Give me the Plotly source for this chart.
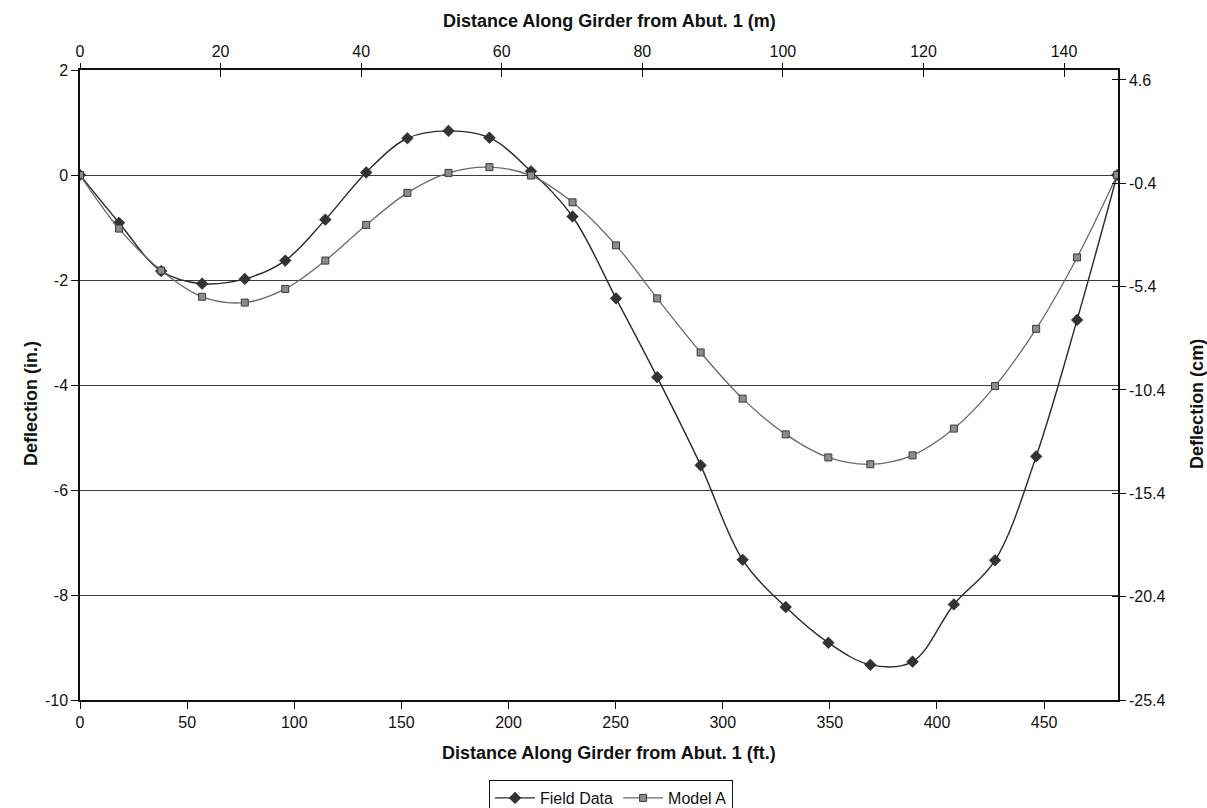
import plotly.graph_objects as go

# Data
dist_ft = [0, 18.2, 37.9, 57.0, 76.9, 95.8, 114.5, 133.6, 152.8, 172.0, 191.1, 210.5, 229.9,
           250.2, 269.4, 289.7, 309.3, 329.4, 349.3, 368.9, 388.6, 407.9, 427.1, 446.3, 465.4, 484.1]
field_data = [0, -0.91, -1.83, -2.07, -1.98, -1.63, -0.85, 0.05, 0.70, 0.84, 0.71, 0.07, -0.79,
              -2.35, -3.85, -5.53, -7.33, -8.23, -8.91, -9.33, -9.27, -8.18, -7.34, -5.36, -2.76, 0]
model_a = [0, -1.02, -1.82, -2.32, -2.43, -2.17, -1.63, -0.95, -0.34, 0.04, 0.15, -0.01, -0.52,
           -1.34, -2.35, -3.38, -4.26, -4.94, -5.38, -5.51, -5.34, -4.83, -4.02, -2.93, -1.57, 0]

x_max_ft = 484.5
ft_per_m = 3.28084
in_range = [-10, 2]
cm_range = [-25.4, 5.08]
cm_ticks = [4.6, -0.4, -5.4, -10.4, -15.4, -20.4, -25.4]
in_ticks = [2, 0, -2, -4, -6, -8, -10]
ft_ticks = [0, 50, 100, 150, 200, 250, 300, 350, 400, 450]
m_ticks = [0, 20, 40, 60, 80, 100, 120, 140]

FONT = "Liberation Sans, Arial, sans-serif"

fig = go.Figure()
fig.add_trace(go.Scatter(
    x=dist_ft, y=field_data, name="Field Data", mode="lines+markers",
    line=dict(color="#2a2a2a", width=1.4, shape="spline", smoothing=1.0),
    marker=dict(symbol="diamond", size=9, color="#333333", line=dict(color="#1a1a1a", width=0.5)),
))
fig.add_trace(go.Scatter(
    x=dist_ft, y=model_a, name="Model A", mode="lines+markers",
    line=dict(color="#6a6a6a", width=1.3, shape="spline", smoothing=1.0),
    marker=dict(symbol="square", size=7, color="#8c8c8c", line=dict(color="#3a3a3a", width=1)),
))
# empty traces so the secondary axes are drawn
for xa, ya in [("x2", "y2"), ("x3", "y3")]:
    fig.add_trace(go.Scatter(x=[], y=[], xaxis=xa, yaxis=ya, showlegend=False, hoverinfo="skip"))

tickfont = dict(family=FONT, size=16, color="#111")
titlefont = dict(family=FONT, size=18, color="#111")

fig.update_layout(
    width=1207, height=808,
    margin=dict(l=80, r=89, t=70, b=108, autoexpand=False),
    paper_bgcolor="white", plot_bgcolor="white",
    font=dict(family=FONT, size=16, color="#111"),
    showlegend=True,
    legend=dict(orientation="h", x=0.5116, xanchor="center", y=-0.127, yanchor="top",
                bordercolor="#111", borderwidth=1, bgcolor="white",
                font=dict(family=FONT, size=16, color="#111"), itemwidth=40),
    xaxis=dict(range=[0, x_max_ft], tickvals=ft_ticks, ticks="outside", ticklen=7,
               tickcolor="#111", showline=True, linecolor="#111", linewidth=1.5,
               showgrid=False, zeroline=False, tickfont=tickfont, mirror=False),
    yaxis=dict(range=in_range, tickvals=in_ticks, ticktext=[str(v) for v in in_ticks],
               ticks="outside", ticklen=7,
               tickcolor="#111", showline=True, linecolor="#111", linewidth=1.5,
               showgrid=True, gridcolor="#3c3c3c", gridwidth=1, zeroline=False,
               tickfont=tickfont),
    xaxis2=dict(range=[0, x_max_ft / ft_per_m], tickvals=m_ticks, overlaying="x", side="top",
                anchor="y", ticks="outside", ticklen=5, tickcolor="#111", showline=True,
                linecolor="#111", linewidth=1.5, showgrid=False, zeroline=False,
                tickfont=tickfont),
    xaxis3=dict(range=[0, x_max_ft / ft_per_m], tickvals=m_ticks, overlaying="x", side="top",
                anchor="y", ticks="inside", ticklen=7, tickcolor="#111", showline=False,
                showgrid=False, zeroline=False, showticklabels=False),
    yaxis2=dict(range=cm_range, tickvals=cm_ticks, ticktext=[str(v) for v in cm_ticks],
                overlaying="y", side="right", anchor="x", ticks="outside", ticklen=6,
                tickcolor="#111", showline=True, linecolor="#111", linewidth=1.5,
                showgrid=False, zeroline=False, tickfont=tickfont),
    yaxis3=dict(range=cm_range, tickvals=cm_ticks, overlaying="y", side="right", anchor="x",
                ticks="inside", ticklen=6, tickcolor="#111", showline=False,
                showgrid=False, zeroline=False, showticklabels=False),
    annotations=[
        dict(text="<b>Distance Along Girder from Abut. 1 (ft.)</b>", xref="paper", yref="paper",
             x=0.51, y=-0.0841, xanchor="center", yanchor="middle", showarrow=False, font=titlefont),
        dict(text="<b>Distance Along Girder from Abut. 1 (m)</b>", xref="paper", yref="paper",
             x=0.51, y=1.0778, xanchor="center", yanchor="middle", showarrow=False, font=titlefont),
        dict(text="<b>Deflection (in.)</b>", xref="paper", yref="paper", textangle=-90,
             x=-0.0472, y=0.47, xanchor="center", yanchor="middle", showarrow=False, font=titlefont),
        dict(text="<b>Deflection (cm)</b>", xref="paper", yref="paper", textangle=-90,
             x=1.0761, y=0.47, xanchor="center", yanchor="middle", showarrow=False, font=titlefont),
    ],
)

fig.write_html("out.html")
